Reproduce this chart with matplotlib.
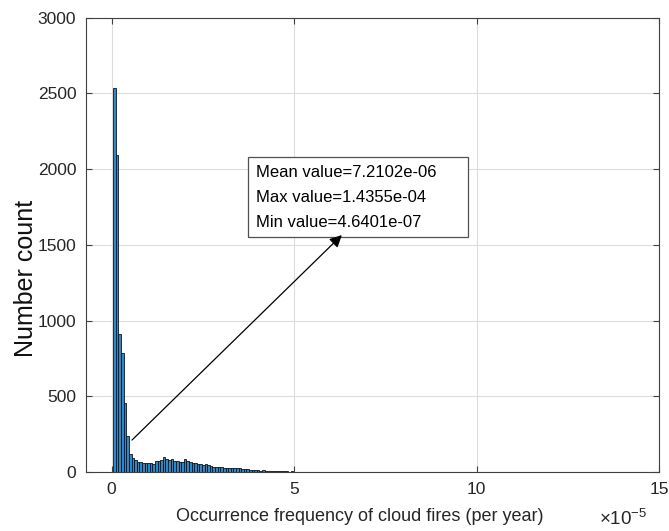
import numpy as np
import matplotlib
matplotlib.use("Agg")
import matplotlib.pyplot as plt
from matplotlib.patches import Rectangle

plt.rcParams['font.family'] = ['Liberation Sans', 'DejaVu Sans']
plt.rcParams['mathtext.fontset'] = 'custom'
plt.rcParams['mathtext.rm'] = 'Liberation Sans'
plt.rcParams['mathtext.it'] = 'Liberation Sans'

# histogram of occurrence frequency (units of 1e-5 per year), 200 bins
x_min = 0.046401
x_max = 14.355
counts = [
    2537, 2091, 908, 787, 457, 235, 119, 90, 79, 68,
    64, 60, 57, 58, 60, 50, 73, 75, 79, 101,
    88, 79, 84, 73, 70, 68, 68, 86, 75, 66,
    62, 57, 53, 55, 44, 53, 44, 37, 35, 35,
    35, 33, 24, 24, 29, 27, 26, 28, 24, 20,
    18, 21, 13, 14, 12, 11, 9, 10, 8, 9,
    7, 8, 6, 7, 5, 4, 5, 3, 4, 3,
    2, 3, 2, 2, 3, 2, 1, 2, 2, 1,
    2, 1, 1, 2, 1, 1, 1, 0, 1, 1,
    1, 0, 1, 1, 0, 1, 0, 1, 0, 0,
    1, 0, 0, 1, 0, 0, 0, 1, 0, 0,
    0, 0, 1, 0, 0, 0, 0, 0, 1, 0,
    0, 0, 0, 0, 0, 1, 0, 0, 0, 0,
    0, 0, 0, 0, 1, 0, 0, 0, 0, 0,
    0, 0, 0, 0, 0, 0, 0, 0, 1, 0,
    0, 0, 0, 0, 0, 0, 0, 0, 0, 0,
    0, 0, 0, 0, 0, 1, 0, 0, 0, 0,
    0, 0, 0, 0, 0, 0, 0, 0, 0, 0,
    0, 0, 0, 0, 0, 0, 0, 0, 0, 0,
    0, 0, 0, 0, 0, 0, 0, 0, 0, 1,
]
stats_lines = ['Mean value=7.2102e-06', 'Max value=1.4355e-04', 'Min value=4.6401e-07']

edges = np.linspace(x_min, x_max, len(counts) + 1)

fig = plt.figure(figsize=(6.69, 5.31), dpi=100)
ax = fig.add_axes([0.1286, 0.1111, 0.8564, 0.8559])

ax.bar(edges[:-1], counts, width=np.diff(edges), align='edge',
       facecolor='#2f86c8', edgecolor='#141414', linewidth=0.6, zorder=2)

ax.set_xlim(-0.7, 15)
ax.set_ylim(0, 3000)
ax.set_xticks([0, 5, 10, 15])
ax.set_yticks(np.arange(0, 3001, 500))
ax.grid(True, color='#dcdcdc', linewidth=0.8, zorder=0)
ax.set_axisbelow(True)
ax.tick_params(direction='in', top=True, right=True, length=4,
               color='#404040', labelsize=12.5, pad=7, labelcolor='#262626')
for s in ax.spines.values():
    s.set_color('#404040')
    s.set_linewidth(0.8)

ax.set_xlabel('Occurrence frequency of cloud fires (per year)', fontsize=13,
              color='#262626')
ax.xaxis.set_label_coords(0.478, -0.079)
ax.set_ylabel('Number count', fontsize=18, color='#111111')
ax.yaxis.set_label_coords(-0.083, 0.427)
fig.text(0.895, 0.012, r'$\times 10^{-5}$', fontsize=13.5, color='#262626')

# statistics box and arrow
ax.add_patch(Rectangle((3.73, 1551), 6.05, 529, facecolor='white',
                       edgecolor='#505050', linewidth=0.9, zorder=3))
for yy, line in zip([1974, 1812, 1648], stats_lines):
    ax.text(3.97, yy, line, fontsize=12, va='center', ha='left', zorder=4)

ax.annotate('', xy=(6.31, 1564), xytext=(0.56, 211),
            arrowprops=dict(arrowstyle='-|>', mutation_scale=18, lw=0.9,
                            color='black', shrinkA=0, shrinkB=0), zorder=4)

fig.savefig('out.png', dpi=100)
